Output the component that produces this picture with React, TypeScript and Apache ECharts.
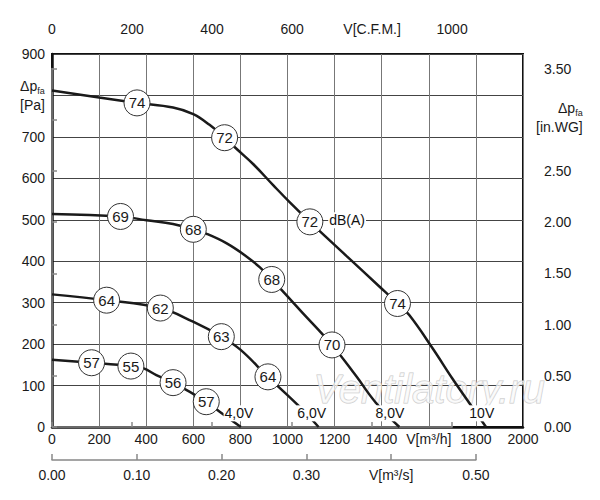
import React, { useEffect, useRef } from "react";
import * as echarts from "echarts";

// ---- data (m³/h, Pa) ----
const curve10V: [number, number][] = [
  [0, 812], [200, 795], [361, 782], [514, 771], [600, 755], [669, 729], [733, 698],
  [782, 672], [855, 634], [940, 583], [1010, 542], [1095, 495], [1250, 413], [1390, 339],
  [1467, 298], [1517, 270], [1616, 190], [1700, 117], [1778, 53], [1843, 0],
];
const curve8V: [number, number][] = [
  [0, 514], [291, 508], [401, 499], [514, 490], [600, 477], [657, 466], [742, 443],
  [827, 411], [883, 385], [933, 356], [1060, 278], [1189, 198], [1290, 124], [1376, 58],
  [1475, 0],
];
const curve6V: [number, number][] = [
  [0, 320], [232, 306], [460, 287], [599, 254], [719, 218], [801, 186], [917, 121],
  [1051, 49], [1132, 0],
];
const curve4V: [number, number][] = [
  [0, 162], [168, 155], [335, 147], [387, 142], [443, 125], [514, 107], [655, 61],
  [712, 37], [802, 0],
];
const dbMarks: [number, number, string][] = [
  [361, 782, "74"], [733, 698, "72"], [1095, 495, "72"], [1467, 298, "74"],
  [291, 508, "69"], [600, 477, "68"], [933, 356, "68"], [1189, 198, "70"],
  [232, 306, "64"], [460, 287, "62"], [719, 218, "63"], [917, 121, "64"],
  [168, 155, "57"], [335, 147, "55"], [514, 107, "56"], [655, 61, "57"],
];
const voltLabels: [number, number, string][] = [
  [794, 33, "4,0V"], [1103, 33, "6,0V"], [1435, 33, "8,0V"], [1825, 33, "10V"],
];
const unitLabels: [number, number, string][] = [[1253, 499, "dB(A)"]];

const CFM_TO_M3H = 1.699;
const M3S_TO_M3H = 3600;
const FONT = "'Liberation Sans', Arial, sans-serif";
const TXT = "#1a1a1a";

export default function App() {
  const ref = useRef<HTMLDivElement>(null);
  useEffect(() => {
    if (!ref.current) return;
    const chart = echarts.init(ref.current, undefined, { renderer: "svg" });
    const L = 52, T = 54, W = 471, H = 373;
    const base = { fontFamily: FONT, color: TXT, fontSize: 14 };
    const lineSeries = (name: string, data: [number, number][]) => ({
      name, type: "line", data, smooth: 0.4, showSymbol: false, z: 3,
      xAxisIndex: 0, yAxisIndex: 0,
      lineStyle: { color: "#1a1a1a", width: 2.5 },
    });
    chart.setOption({
      animation: false,
      textStyle: { fontFamily: FONT },
      grid: [
        { left: L, top: T, width: W, height: H, show: true, borderColor: "#111", borderWidth: 2 },
        { left: L, top: 44, width: W * (1000 * CFM_TO_M3H) / 2000, height: 383 },
        { left: L, top: 68.5, width: 482, height: 358.5 },
        { left: L, top: T, width: W * (0.5 * M3S_TO_M3H) / 2000, height: 406 },
      ],
      xAxis: [
        {
          gridIndex: 0, type: "value", min: 0, max: 2000, interval: 200, position: "bottom",
          axisLine: { lineStyle: { color: "#111", width: 2.5 } },
          axisTick: { show: false },
          splitLine: { show: true, lineStyle: { color: "#777", width: 1 } },
          axisLabel: {
            ...base, margin: 5,
            formatter: (v: number) => (v === 1600 ? "V[m³/h]" : String(v)),
          },
        },
        {
          gridIndex: 1, type: "value", min: 0, max: 1000, interval: 200, position: "top",
          axisLine: { lineStyle: { color: "#888", width: 1.5 } },
          axisTick: { show: true, length: 5, lineStyle: { color: "#888", width: 1.5 } },
          splitLine: { show: false },
          axisLabel: {
            ...base, margin: 8,
            formatter: (v: number) => (v === 800 ? "V[C.F.M.]" : String(v)),
          },
        },
        { gridIndex: 2, type: "value", show: false },
        {
          gridIndex: 3, type: "value", min: 0, max: 0.5, interval: 0.1, position: "bottom",
          axisLine: { lineStyle: { color: "#888", width: 1.5 } },
          axisTick: { show: true, inside: true, length: 6, lineStyle: { color: "#888", width: 1.5 } },
          splitLine: { show: false },
          axisLabel: {
            ...base, margin: 8,
            formatter: (v: number) => (Math.abs(v - 0.4) < 1e-9 ? "V[m³/s]" : v.toFixed(2)),
          },
        },
      ],
      yAxis: [
        {
          gridIndex: 0, type: "value", min: 0, max: 900, interval: 100,
          axisLine: { show: true, lineStyle: { color: "#111", width: 2.5 } },
          axisTick: { show: false },
          splitLine: { show: true, lineStyle: { color: "#444", width: 1 } },
          axisLabel: {
            ...base, margin: 7,
            formatter: (v: number) => (v === 800 ? "{a|Δp}{s|fa}\n{b|[Pa]}" : String(v)),
            rich: {
              a: { ...base, align: "left", lineHeight: 19 },
              s: { ...base, fontSize: 9, align: "left", verticalAlign: "bottom", lineHeight: 19 },
              b: { ...base, align: "left", lineHeight: 19 },
            },
          },
        },
        { gridIndex: 1, type: "value", show: false },
        {
          gridIndex: 2, type: "value", min: 0, max: 3.5, interval: 0.5, position: "right",
          axisLine: { show: true, lineStyle: { color: "#888", width: 1.5 } },
          axisTick: { show: true, length: 5, lineStyle: { color: "#888", width: 1.5 } },
          splitLine: { show: false },
          axisLabel: {
            ...base, margin: 10,
            formatter: (v: number) => (Math.abs(v - 3) < 1e-9 ? "" : v.toFixed(2)),
          },
        },
        { gridIndex: 3, type: "value", show: false },
      ],
      graphic: [
        {
          type: "text", left: 313, top: 368, z: 1, silent: true,
          style: {
            text: "Ventilatory.ru", font: `italic 40px ${FONT}`,
            fill: "rgba(250,250,250,0.7)", stroke: "#c8c8c8", lineWidth: 1,
          },
        },
        {
          type: "text", left: 536, top: 101, z: 10,
          style: {
            text: "{a|Δp}{s|fa}\n{b|[in.WG]}",
            rich: {
              a: { ...base, fill: TXT, align: "right", lineHeight: 19 },
              s: { ...base, fill: TXT, fontSize: 9, align: "right", verticalAlign: "bottom", lineHeight: 19 },
              b: { ...base, fill: TXT, align: "left", lineHeight: 19 },
            },
          },
        },
      ],
      series: [
        lineSeries("10V", curve10V),
        lineSeries("8V", curve8V),
        lineSeries("6V", curve6V),
        lineSeries("4V", curve4V),
        {
          type: "scatter", data: dbMarks, z: 5, xAxisIndex: 0, yAxisIndex: 0,
          symbol: "circle", symbolSize: 26,
          itemStyle: { color: "#fff", borderColor: "#333", borderWidth: 1, opacity: 1 },
          label: {
            show: true, position: "inside", ...base, fontSize: 15, textBorderWidth: 0,
            formatter: (p: any) => p.value[2],
          },
        },
        {
          type: "scatter", data: [...voltLabels, ...unitLabels], z: 6, xAxisIndex: 0, yAxisIndex: 0,
          symbol: "circle", symbolSize: 1, itemStyle: { color: "#fff", opacity: 1 },
          label: {
            show: true, position: "inside", ...base, color: "#111", fontSize: 14,
            textBorderWidth: 0, opacity: 1,
            backgroundColor: "#fff", padding: [1, 1],
            formatter: (p: any) => p.value[2],
          },
        },
      ],
    });
    return () => chart.dispose();
  }, []);
  return (
    <div
      ref={ref}
      style={{ position: "fixed", left: 0, top: 0, width: 600, height: 500, background: "#fff" }}
    />
  );
}
